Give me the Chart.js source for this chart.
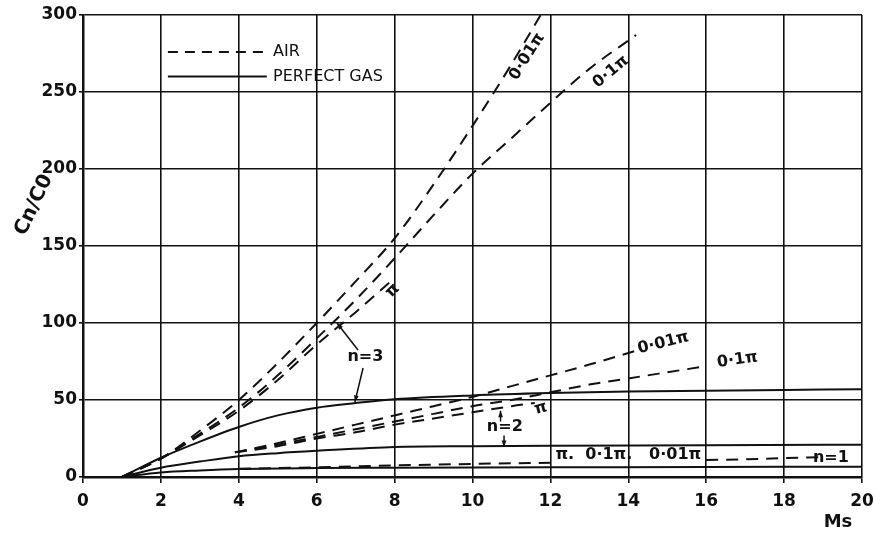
<!DOCTYPE html>
<html>
<head>
<meta charset="utf-8">
<script src="https://cdn.jsdelivr.net/npm/chart.js@4"></script>
<style>
  body { margin: 0; background: #fff; }
</style>
</head>
<body>
<canvas id="chart" width="875" height="536"></canvas>
<script>
// tick values
const xTicks = [0, 2, 4, 6, 8, 10, 12, 14, 16, 18, 20];
const yTicks = [0, 50, 100, 150, 200, 250, 300];

// perfect gas (solid)
const gas3X = [1, 2, 3, 4, 5, 6, 7, 8, 10, 12, 14, 16, 18, 20];
const gas3Y = [0, 12.5, 23, 32.5, 40, 45, 48, 50.5, 53, 54.5, 55.5, 56, 56.5, 57];
const gas2X = [1, 2, 3, 4, 5, 6, 8, 10, 12, 16, 20];
const gas2Y = [0, 6, 10, 13.5, 15.5, 17, 19.5, 20, 20.3, 20.6, 21];
const gas1X = [1, 2, 3, 4, 6, 8, 12, 16, 20];
const gas1Y = [0, 3, 4.3, 5.2, 5.8, 6, 6.3, 6.5, 6.7];

// air (dashed), n=3
const air3p01X = [1, 2, 3, 4, 5, 6, 7, 8, 9, 10, 11, 11.75];
const air3p01Y = [0, 12, 30, 50, 74, 100, 127, 155, 190, 228, 268, 300];
const air3p1X = [1, 2, 3, 4, 5, 6, 7, 8, 9, 10, 11, 12, 13, 14.2];
const air3p1Y = [0, 12, 28, 45, 66, 90, 115, 142, 170, 197, 220, 243, 265, 287];
const air3piX = [1, 2, 3, 4, 5, 6, 7, 7.9];
const air3piY = [0, 12, 27, 43, 63, 86, 107, 127];

// air (dashed), n=2
const air2p01X = [3.9, 5, 6, 7, 8, 9, 10, 11, 12, 13, 14.2];
const air2p01Y = [16, 22, 28, 34, 40, 46, 52, 59, 66, 73, 82];
const air2p1X = [3.9, 5, 6, 7, 8, 9, 10, 11, 12, 13, 14, 15, 16];
const air2p1Y = [16, 21, 26, 31, 36, 41, 46, 50, 55, 60, 64, 68, 72];
const air2piX = [3.9, 5, 6, 7, 8, 9, 10, 11, 11.6];
const air2piY = [16, 20, 25, 29, 34, 38, 42, 46, 48];

// air (dashed), n=1 (broken where the labels sit)
const air1X = [4, 6, 8, 10, 12.2, 14, 16, 17, 18, 18.9];
const air1Y = [5.3, 6.3, 7.5, 8.5, 9.3, null, 11, 11.5, 12.3, 12.8];

const pts = (xs, ys) => xs.map((x, i) => ({ x: x, y: ys[i] }));

const solid = (label, xs, ys) => ({
  label: label,
  data: pts(xs, ys),
  borderColor: "#111",
  borderWidth: 2,
  pointRadius: 0,
  tension: 0.4,
  cubicInterpolationMode: "monotone",
  spanGaps: false,
});
const dashed = (label, xs, ys) => ({
  ...solid(label, xs, ys),
  borderDash: [12, 8],
});

// curve labels, in data units
const notes = [
  { text: "0·01π", x: 11.4, y: 273, rot: -58 },
  { text: "0·1π", x: 13.55, y: 263, rot: -40 },
  { text: "π", x: 7.95, y: 121, rot: -45 },
  { text: "n=3", x: 7.25, y: 78, rot: 0 },
  { text: "0·01π", x: 14.9, y: 87, rot: -14 },
  { text: "0·1π", x: 16.8, y: 76, rot: -8 },
  { text: "π", x: 11.75, y: 44.5, rot: -15 },
  { text: "n=2", x: 10.83, y: 32.5, rot: 0 },
  { text: "π.  0·1π.   0·01π", x: 14, y: 14.5, rot: 0 },
  { text: "n=1", x: 19.2, y: 12.5, rot: 0 },
];
const arrows = [
  [7.06, 82.5, 6.52, 100],
  [7.19, 70.8, 6.98, 48.7],
  [10.81, 27, 10.81, 19.5],
  [10.72, 36, 10.72, 43],
];

const drawExtras = {
  id: "drawExtras",
  afterDatasetsDraw(chart) {
    const ctx = chart.ctx;
    const sx = chart.scales.x;
    const sy = chart.scales.y;
    const px = (v) => sx.getPixelForValue(v);
    const py = (v) => sy.getPixelForValue(v);
    ctx.save();
    ctx.fillStyle = "#111";
    ctx.strokeStyle = "#111";
    ctx.font = 'bold 16px "DejaVu Sans"';
    ctx.textAlign = "center";
    ctx.textBaseline = "middle";
    notes.forEach((n) => {
      ctx.save();
      ctx.translate(px(n.x), py(n.y));
      ctx.rotate((n.rot * Math.PI) / 180);
      ctx.fillText(n.text, 0, 0);
      ctx.restore();
    });
    ctx.lineWidth = 1.5;
    arrows.forEach((a) => {
      const x1 = px(a[0]), y1 = py(a[1]), x2 = px(a[2]), y2 = py(a[3]);
      ctx.beginPath();
      ctx.moveTo(x1, y1);
      ctx.lineTo(x2, y2);
      ctx.stroke();
      const ang = Math.atan2(y2 - y1, x2 - x1);
      ctx.beginPath();
      ctx.moveTo(x2, y2);
      ctx.lineTo(x2 - 7 * Math.cos(ang - 0.35), y2 - 7 * Math.sin(ang - 0.35));
      ctx.lineTo(x2 - 7 * Math.cos(ang + 0.35), y2 - 7 * Math.sin(ang + 0.35));
      ctx.closePath();
      ctx.fill();
    });

    // legend
    ctx.lineWidth = 2;
    ctx.setLineDash([10, 7]);
    ctx.beginPath();
    ctx.moveTo(px(2.18), py(276));
    ctx.lineTo(px(4.72), py(276));
    ctx.stroke();
    ctx.setLineDash([]);
    ctx.beginPath();
    ctx.moveTo(px(2.18), py(260));
    ctx.lineTo(px(4.72), py(260));
    ctx.stroke();
    ctx.font = '16px "DejaVu Sans"';
    ctx.textAlign = "left";
    ctx.fillText("AIR", px(4.88), py(276));
    ctx.fillText("PERFECT GAS", px(4.88), py(260));

    // axis titles
    ctx.font = 'bold 18px "DejaVu Sans"';
    ctx.textAlign = "center";
    ctx.fillText("Ms", 838, 522);
    ctx.save();
    ctx.translate(34, 205);
    ctx.rotate((-65 * Math.PI) / 180);
    ctx.font = 'bold 20px "DejaVu Sans"';
    ctx.fillText("Cn/C0", 0, 0);
    ctx.restore();
    ctx.restore();
  },
};

new Chart(document.getElementById("chart"), {
  type: "line",
  data: {
    datasets: [
      solid("n=3 perfect gas", gas3X, gas3Y),
      solid("n=2 perfect gas", gas2X, gas2Y),
      solid("n=1 perfect gas", gas1X, gas1Y),
      dashed("n=3 air 0.01π", air3p01X, air3p01Y),
      dashed("n=3 air 0.1π", air3p1X, air3p1Y),
      dashed("n=3 air π", air3piX, air3piY),
      dashed("n=2 air 0.01π", air2p01X, air2p01Y),
      dashed("n=2 air 0.1π", air2p1X, air2p1Y),
      dashed("n=2 air π", air2piX, air2piY),
      dashed("n=1 air", air1X, air1Y),
    ],
  },
  options: {
    responsive: false,
    animation: false,
    events: [],
    layout: { padding: { left: 0, top: 15, right: 13, bottom: 0 } },
    plugins: {
      legend: { display: false },
      tooltip: { enabled: false },
    },
    scales: {
      x: {
        type: "linear",
        min: 0,
        max: 20,
        afterBuildTicks: (scale) => {
          scale.ticks = xTicks.map((v) => ({ value: v }));
        },
        afterFit: (scale) => {
          scale.height = 59;
          scale.paddingLeft = 0;
          scale.paddingRight = 0;
        },
        grid: { color: "#111", lineWidth: 1.6, tickLength: 6 },
        border: { color: "#111", width: 2.5 },
        ticks: {
          color: "#111",
          padding: 8,
          maxRotation: 0,
          font: { family: "DejaVu Sans", size: 17, weight: "bold" },
        },
      },
      y: {
        type: "linear",
        min: 0,
        max: 300,
        afterBuildTicks: (scale) => {
          scale.ticks = yTicks.map((v) => ({ value: v }));
        },
        afterFit: (scale) => {
          scale.width = 83;
          scale.paddingTop = 0;
          scale.paddingBottom = 0;
        },
        grid: { color: "#111", lineWidth: 1.6, tickLength: 4 },
        border: { color: "#111", width: 2.5 },
        ticks: {
          color: "#111",
          padding: 2,
          font: { family: "DejaVu Sans", size: 17, weight: "bold" },
        },
      },
    },
  },
  plugins: [drawExtras],
});
</script>
</body>
</html>
